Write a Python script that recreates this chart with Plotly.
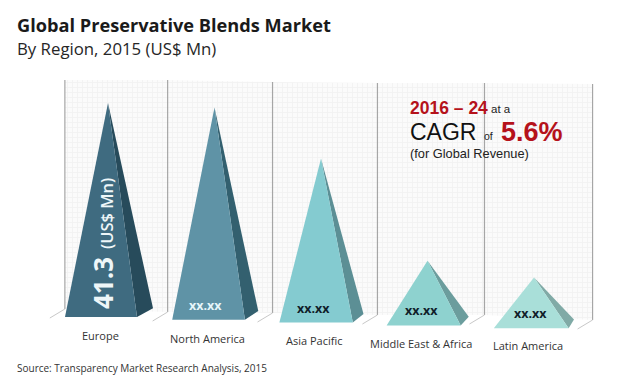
import plotly.graph_objects as go

categories = ["Europe", "North America", "Asia Pacific", "Middle East &amp; Africa", "Latin America"]
values = [41.3, 41.0, 31.7, 12.5, 9.8]
value_labels = ["", "xx.xx", "xx.xx", "xx.xx", "xx.xx"]
front_colors = ["#3f6b80", "#5f93a6", "#84cbd0", "#8ed2cf", "#a9dfd9"]
side_colors = ["#274b5b", "#33606f", "#5c8f95", "#6b9d9d", "#80aaa6"]
label_colors = ["#ffffff", "#e6f6fa", "#10202a", "#10202a", "#10202a"]

W, H = 620, 383
PX_X = 106.5      # pixels per category
PX_Y = 5.18       # pixels per unit of value
X0, Y0 = 108, 317 # pixel position of Europe apex column / baseline


def ux(px):
    return px / PX_X


def uy(px):
    return px / PX_Y


def base(i):
    return -uy(2.8) * i


fig = go.Figure()

# walls: panels between vertical edges
edges = [0, 1, 2, 3, 4, 5]
wall_x = [-0.405, 0.56, 1.545, 2.53, 3.535, 4.55]
wall_top = [uy(237), uy(237), uy(235), uy(234), uy(234), uy(233)]
wall_bot = [uy(8), uy(5), uy(4), uy(2), uy(2), uy(-3)]
for k in range(5):
    fig.add_trace(go.Scatter(
        x=[wall_x[k], wall_x[k + 1], wall_x[k + 1], wall_x[k], wall_x[k]],
        y=[wall_bot[k], wall_bot[k + 1], wall_top[k + 1], wall_top[k], wall_bot[k]],
        mode="lines", line=dict(width=0), fill="toself", fillcolor="#ffffff",
        fillpattern=dict(shape="+", fgcolor="#e6e6e6", bgcolor="#fbfbfb", size=5, solidity=0.3),
        hoverinfo="skip", showlegend=False))
for k in edges:
    fig.add_trace(go.Scatter(
        x=[wall_x[k], wall_x[k]], y=[wall_bot[k], wall_top[k]],
        mode="lines", line=dict(color="#a6a6a6", width=1.2),
        hoverinfo="skip", showlegend=False))
    fig.add_trace(go.Scatter(
        x=[wall_x[k], wall_x[k] - ux(15)], y=[wall_bot[k], wall_bot[k] - uy(9)],
        mode="lines", line=dict(color="#c8c8c8", width=1),
        hoverinfo="skip", showlegend=False))

# pyramids
for i, v in enumerate(values):
    b = base(i)
    left = i + ux(-43 + 0.7 * i)
    right = i + ux(29 + 1.4 * i)
    side = i + ux(45 - 1.25 * i)
    fig.add_trace(go.Scatter(
        x=[i, right, side, i], y=[b + v, b, b + uy(8.7), b + v],
        mode="lines", line=dict(width=0), fill="toself", fillcolor=side_colors[i],
        hoverinfo="skip", showlegend=False))
    fig.add_trace(go.Scatter(
        x=[i, left, right, i], y=[b + v, b, b, b + v],
        mode="lines", line=dict(width=0), fill="toself", fillcolor=front_colors[i],
        hoverinfo="skip", showlegend=False))

fig.update_xaxes(range=[-X0 / PX_X, (W - X0) / PX_X], visible=False, fixedrange=True)
fig.update_yaxes(range=[-(H - Y0) / PX_Y, Y0 / PX_Y], visible=False, fixedrange=True)


def note(text, px, py, size, color="#000000", family="Liberation Sans", xanchor="left", angle=0, weight=None):
    fig.add_annotation(text=text, x=px / W, y=1 - py / H, xref="paper", yref="paper",
                       xanchor=xanchor, yanchor="middle", showarrow=False, textangle=angle,
                       font=dict(size=size, color=color, family=family, weight=weight))


note("<b>Global Preservative Blends Market</b>", 15, 25, 18.2, "#1a1a1a", "Open Sans")
note("By Region, 2015 (US$ Mn)", 15, 49, 16.8, "#262626", "Open Sans")
note("Source: Transparency Market Research Analysis, 2015", 15, 368, 10, "#333333", "Open Sans")

for i, c in enumerate(categories):
    fig.add_annotation(text=c, x=i + ux(-7.5 + 0.4 * i), y=base(i) - uy(18.5 - 0.2 * i),
                       xref="x", yref="y", showarrow=False,
                       font=dict(size=11, color="#333333", family="Open Sans"))
    if value_labels[i]:
        fig.add_annotation(text="<b>" + value_labels[i] + "</b>", x=i + ux(-11 + 1.8 * i), y=base(i) + uy(14.5),
                           xref="x", yref="y", showarrow=False,
                           font=dict(size=12.5, color=label_colors[i], family="Open Sans"))

note("<b>41.3</b>", 103, 283, 26, "#eef6f8", "Open Sans", "center", -90)
note("(US$ Mn)", 106, 214, 16.5, "#eef6f8", "Open Sans", "center", -90, weight=600)

note("<b>2016 – 24</b>", 408, 108, 17.5, "#b5121b")
note("at a", 489, 109, 11.5, "#222222")
note("CAGR", 408, 132, 23, "#111111")
note("of", 482, 136, 10.5, "#222222")
note("<b>5.6%</b>", 499, 132, 27, "#b5121b")
note("(for Global Revenue)", 408, 153, 12.8, "#222222")

fig.update_layout(width=W, height=H, margin=dict(l=0, r=0, t=0, b=0),
                  paper_bgcolor="#ffffff", plot_bgcolor="#ffffff", showlegend=False)
fig.write_html("out.html", config=dict(displayModeBar=False),
               post_script="document.body.style.margin='0';document.documentElement.style.overflow='hidden';")
